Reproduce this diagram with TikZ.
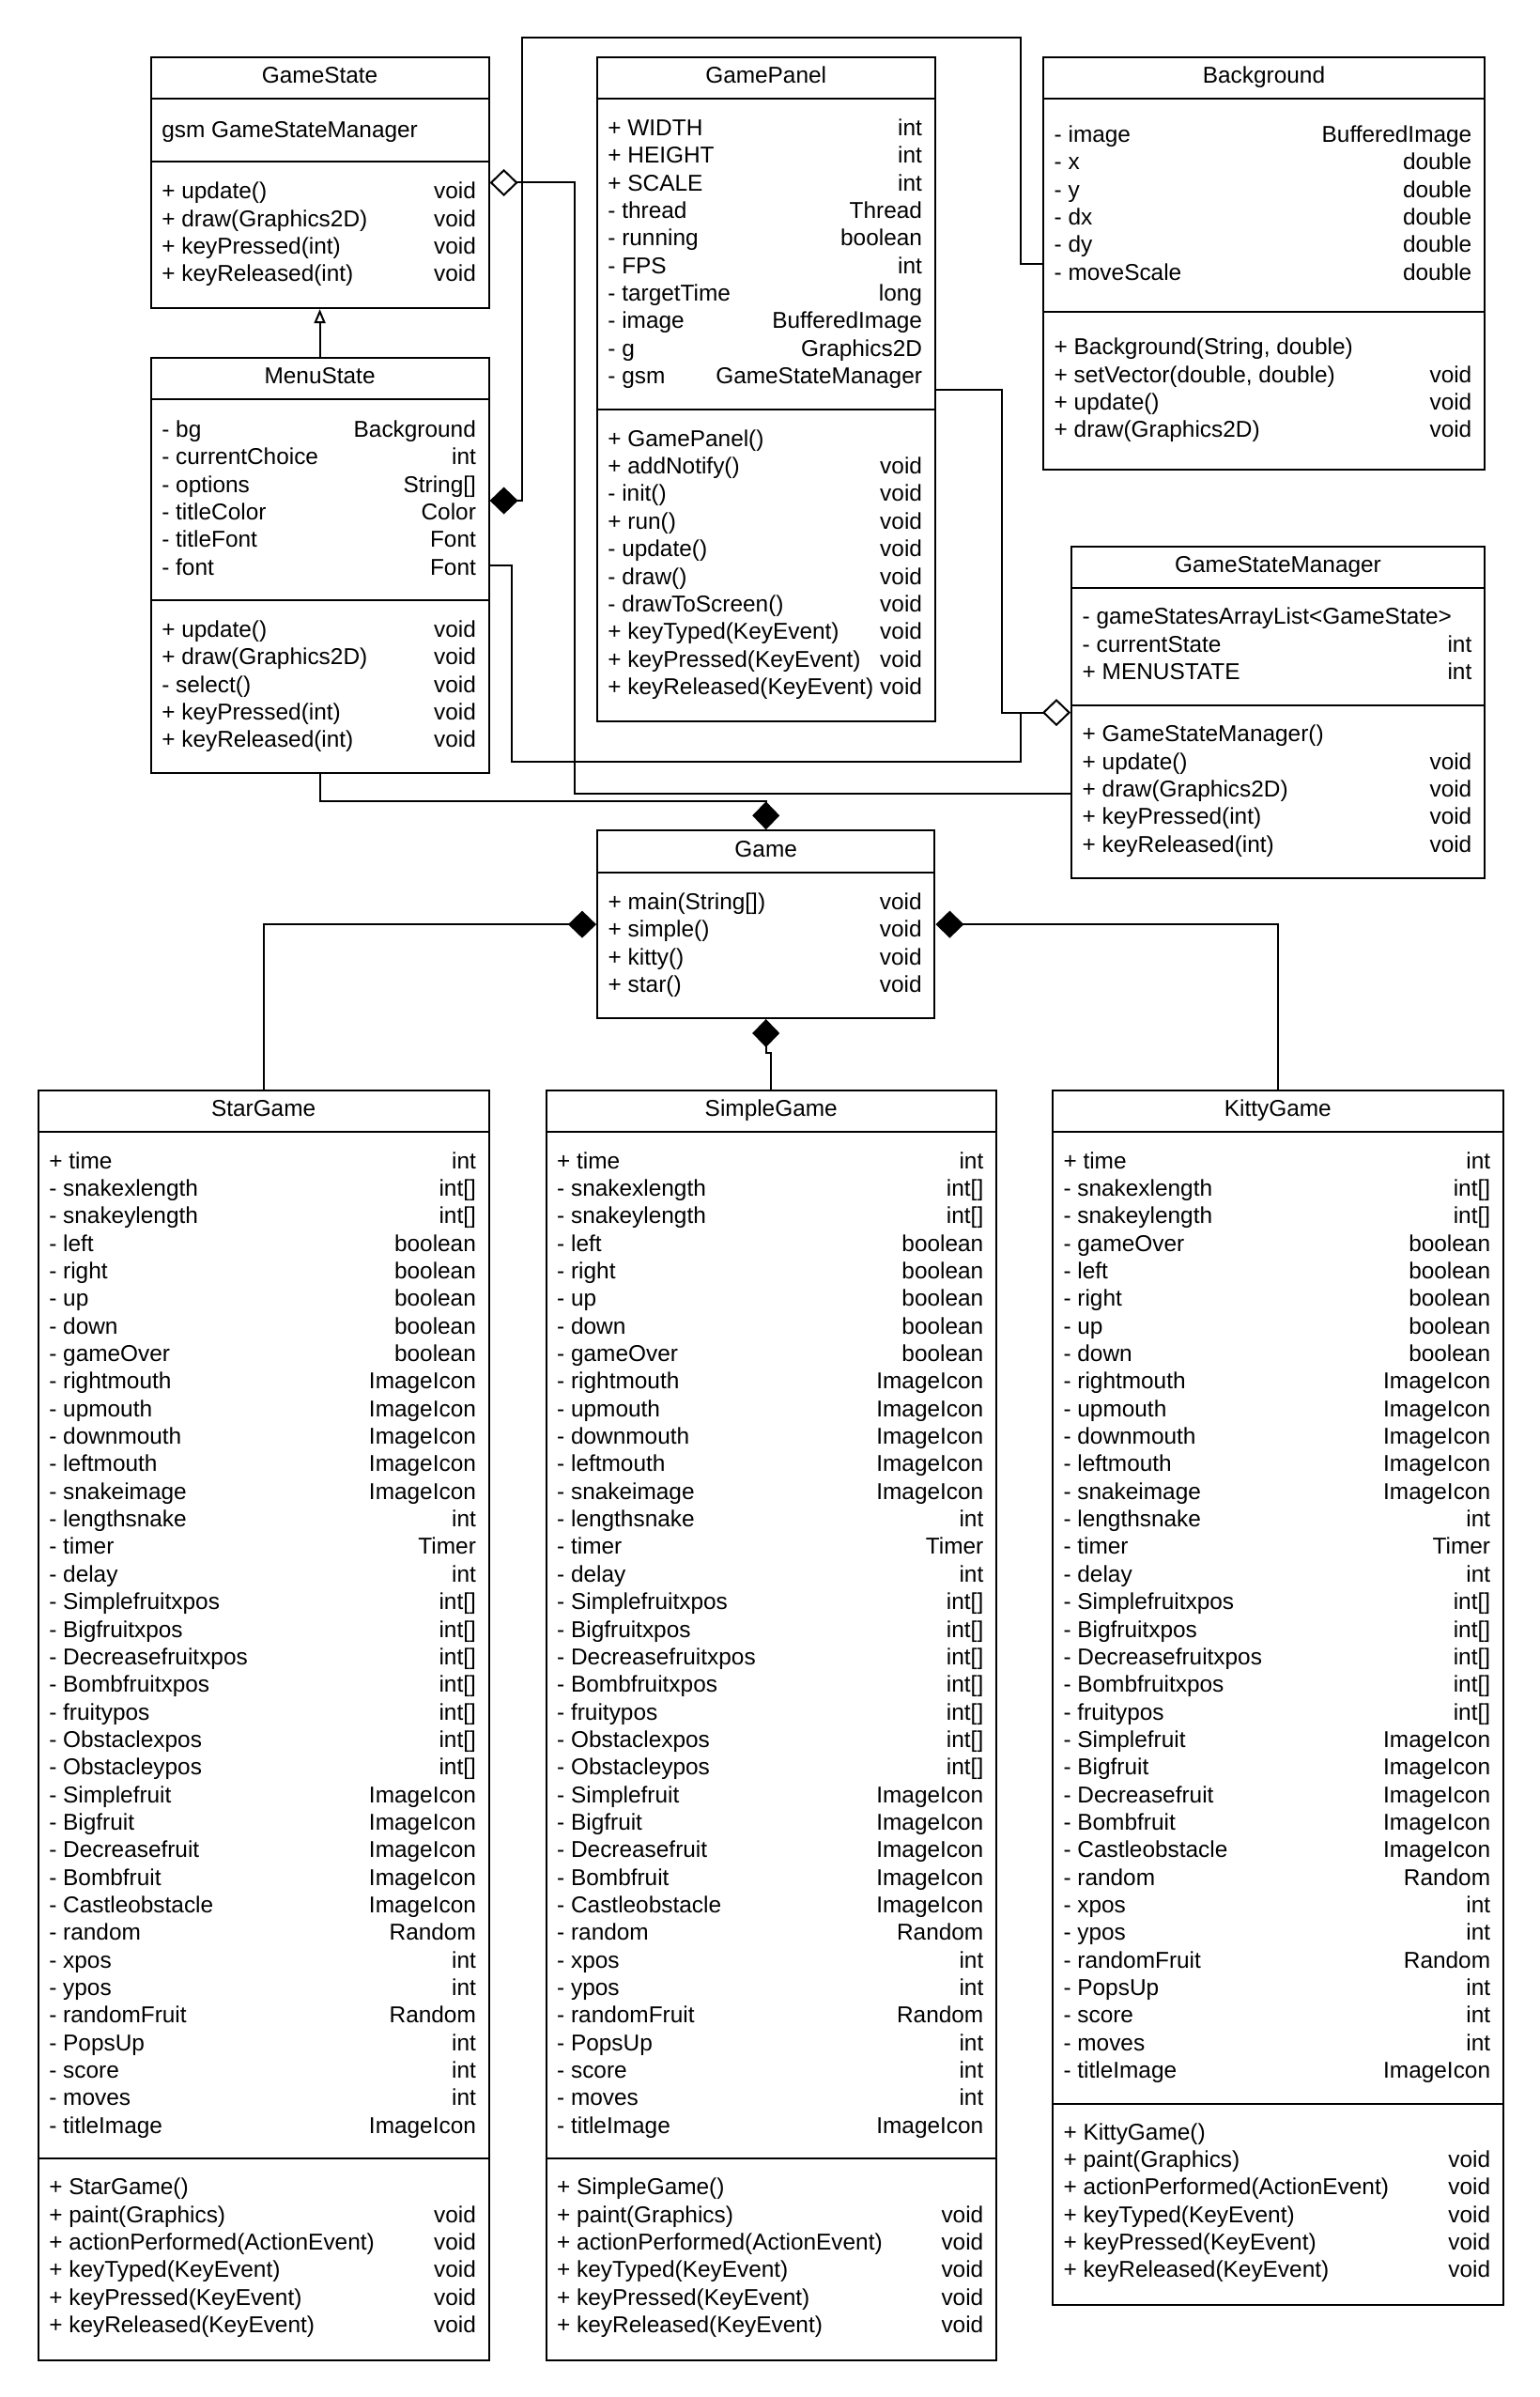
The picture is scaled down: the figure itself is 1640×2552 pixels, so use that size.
\documentclass[tikz,border=0pt]{standalone}
\usepackage{fontspec}
\setmainfont{Liberation Sans}
\usepackage{tikz}
\usetikzlibrary{arrows.meta,positioning,calc}
\newcommand{\umlfont}{\fontsize{24.4pt}{29.35pt}\selectfont}
\tikzset{
  umlbox/.style={draw,line width=2pt,inner sep=0pt,anchor=north west},
  sepline/.style={line width=2pt},
  cname/.style={font=\umlfont,inner sep=0pt,text height=17.5pt,text depth=5pt},
  lcell/.style={cname,anchor=west},
  rcell/.style={cname,anchor=east},
  link/.style={line width=2pt},
  compo/.style={link,-{Diamond[length=30pt,width=29pt]}},
  aggr/.style={link,-{Diamond[open,length=30pt,width=29pt]}},
  inherit/.style={link,-{Triangle[open,length=15pt,width=12pt]}},
}
% compartment line: box, distance from the top
\newcommand{\compline}[2]{\draw[sepline] ([yshift=-#2pt]#1.north west) -- ([yshift=-#2pt]#1.north east);}
% rows of a compartment: box, prefix, offset of first row, name/type list
\newcommand{\members}[4]{%
  \foreach \lhs/\rhs [count=\k from 0] in {#4}{%
    \node[lcell] (#2l\k) at ([xshift=12.5pt,yshift={-(#3+3+\k*29.35)*1pt}]#1.north west) {\lhs};
    \node[rcell] (#2r\k) at ([xshift=-14.5pt,yshift={-(#3+3+\k*29.35)*1pt}]#1.north east) {\rhs};
  }%
}

\begin{document}
\begin{tikzpicture}[x=1pt,y=-1pt]
  \fill[white] (0,0) rectangle (1640,2552);

  % GameState
  \node[umlbox,minimum width=360pt,minimum height=267.3pt] (gs) at (159.6,59.8) {};
  \node[cname] (gs-t) at ([yshift=-22.5pt]gs.north) {GameState};
  \compline{gs}{45}
  \compline{gs}{111.9}
  \members{gs}{gs-a}{77.2}{gsm GameStateManager/{}}
  \members{gs}{gs-m}{142.8}{+ update()/void, + draw(Graphics2D)/void, + keyPressed(int)/void, + keyReleased(int)/void}

  % MenuState
  \node[umlbox,minimum width=360pt,minimum height=442pt] (ms) at (159.6,380.4) {};
  \node[cname] (ms-t) at ([yshift=-22.2pt]ms.north) {MenuState};
  \compline{ms}{44.5}
  \compline{ms}{258.9}
  \members{ms}{ms-a}{75.9}{- bg/Background, - currentChoice/int, - options/String[], - titleColor/Color, - titleFont/Font, - font/Font}
  \members{ms}{ms-m}{288.7}{+ update()/void, + draw(Graphics2D)/void, - select()/void, + keyPressed(int)/void, + keyReleased(int)/void}

  % GamePanel
  \node[umlbox,minimum width=360pt,minimum height=707pt] (gp) at (634.7,60) {};
  \node[cname] (gp-t) at ([yshift=-22.5pt]gp.north) {GamePanel};
  \compline{gp}{45}
  \compline{gp}{375.8}
  \members{gp}{gp-a}{75.2}{+ WIDTH/int, + HEIGHT/int, + SCALE/int, - thread/Thread, - running/boolean, - FPS/int, - targetTime/long, - image/BufferedImage, - g/Graphics2D, - gsm/GameStateManager}
  \members{gp}{gp-m}{406}{+ GamePanel()/{}, + addNotify()/void, - init()/void, + run()/void, - update()/void, - draw()/void, - drawToScreen()/void, + keyTyped(KeyEvent)/void, + keyPressed(KeyEvent)/void, + keyReleased(KeyEvent)/void}

  % Background
  \node[umlbox,minimum width=470pt,minimum height=439.1pt] (bg) at (1110,60.1) {};
  \node[cname] (bg-t) at ([yshift=-22.4pt]bg.north) {Background};
  \compline{bg}{44.8}
  \compline{bg}{271.5}
  \members{bg}{bg-a}{82.1}{- image/BufferedImage, - x/double, - y/double, - dx/double, - dy/double, - moveScale/double}
  \members{bg}{bg-m}{308.3}{{+ Background(String, double)}/{}, {+ setVector(double, double)}/void, + update()/void, + draw(Graphics2D)/void}

  % GameStateManager
  \node[umlbox,minimum width=440pt,minimum height=353.6pt] (gsm) at (1140,580.8) {};
  \node[cname] (gsm-t) at ([yshift=-22.3pt]gsm.north) {GameStateManager};
  \compline{gsm}{44.7}
  \compline{gsm}{169.9}
  \members{gsm}{gsm-a}{74.6}{- gameStatesArrayList<GameState>/{}, - currentState/int, + MENUSTATE/int}
  \members{gsm}{gsm-m}{199.7}{+ GameStateManager()/{}, + update()/void, + draw(Graphics2D)/void, + keyPressed(int)/void, + keyReleased(int)/void}

  % Game
  \node[umlbox,minimum width=359.4pt,minimum height=199.7pt] (game) at (635,883.3) {};
  \node[cname] (game-t) at ([yshift=-22.8pt]game.north) {Game};
  \compline{game}{45.7}
  \members{game}{game-m}{76}{+ main(String[])/void, + simple()/void, + kitty()/void, + star()/void}

  % StarGame
  \node[umlbox,minimum width=480pt,minimum height=1352.1pt] (star) at (39.6,1159.8) {};
  \node[cname] (star-t) at ([yshift=-22.5pt]star.north) {StarGame};
  \compline{star}{45.1}
  \compline{star}{1137.8}
  \members{star}{star-a}{75}{+ time/int, - snakexlength/int[], - snakeylength/int[], - left/boolean, - right/boolean, - up/boolean, - down/boolean, - gameOver/boolean, - rightmouth/ImageIcon, - upmouth/ImageIcon, - downmouth/ImageIcon, - leftmouth/ImageIcon, - snakeimage/ImageIcon, - lengthsnake/int, - timer/Timer, - delay/int, - Simplefruitxpos/int[], - Bigfruitxpos/int[], - Decreasefruitxpos/int[], - Bombfruitxpos/int[], - fruitypos/int[], - Obstaclexpos/int[], - Obstacleypos/int[], - Simplefruit/ImageIcon, - Bigfruit/ImageIcon, - Decreasefruit/ImageIcon, - Bombfruit/ImageIcon, - Castleobstacle/ImageIcon, - random/Random, - xpos/int, - ypos/int, - randomFruit/Random, - PopsUp/int, - score/int, - moves/int, - titleImage/ImageIcon}
  \members{star}{star-m}{1167.7}{+ StarGame()/{}, + paint(Graphics)/void, + actionPerformed(ActionEvent)/void, + keyTyped(KeyEvent)/void, + keyPressed(KeyEvent)/void, + keyReleased(KeyEvent)/void}

  % SimpleGame
  \node[umlbox,minimum width=479.5pt,minimum height=1352.1pt] (simple) at (580.5,1159.8) {};
  \node[cname] (simple-t) at ([yshift=-22.5pt]simple.north) {SimpleGame};
  \compline{simple}{45.1}
  \compline{simple}{1137.8}
  \members{simple}{simple-a}{75}{+ time/int, - snakexlength/int[], - snakeylength/int[], - left/boolean, - right/boolean, - up/boolean, - down/boolean, - gameOver/boolean, - rightmouth/ImageIcon, - upmouth/ImageIcon, - downmouth/ImageIcon, - leftmouth/ImageIcon, - snakeimage/ImageIcon, - lengthsnake/int, - timer/Timer, - delay/int, - Simplefruitxpos/int[], - Bigfruitxpos/int[], - Decreasefruitxpos/int[], - Bombfruitxpos/int[], - fruitypos/int[], - Obstaclexpos/int[], - Obstacleypos/int[], - Simplefruit/ImageIcon, - Bigfruit/ImageIcon, - Decreasefruit/ImageIcon, - Bombfruit/ImageIcon, - Castleobstacle/ImageIcon, - random/Random, - xpos/int, - ypos/int, - randomFruit/Random, - PopsUp/int, - score/int, - moves/int, - titleImage/ImageIcon}
  \members{simple}{simple-m}{1167.7}{+ SimpleGame()/{}, + paint(Graphics)/void, + actionPerformed(ActionEvent)/void, + keyTyped(KeyEvent)/void, + keyPressed(KeyEvent)/void, + keyReleased(KeyEvent)/void}

  % KittyGame
  \node[umlbox,minimum width=480pt,minimum height=1293.5pt] (kitty) at (1119.8,1159.8) {};
  \node[cname] (kitty-t) at ([yshift=-22.5pt]kitty.north) {KittyGame};
  \compline{kitty}{45.1}
  \compline{kitty}{1079.8}
  \members{kitty}{kitty-a}{75}{+ time/int, - snakexlength/int[], - snakeylength/int[], - gameOver/boolean, - left/boolean, - right/boolean, - up/boolean, - down/boolean, - rightmouth/ImageIcon, - upmouth/ImageIcon, - downmouth/ImageIcon, - leftmouth/ImageIcon, - snakeimage/ImageIcon, - lengthsnake/int, - timer/Timer, - delay/int, - Simplefruitxpos/int[], - Bigfruitxpos/int[], - Decreasefruitxpos/int[], - Bombfruitxpos/int[], - fruitypos/int[], - Simplefruit/ImageIcon, - Bigfruit/ImageIcon, - Decreasefruit/ImageIcon, - Bombfruit/ImageIcon, - Castleobstacle/ImageIcon, - random/Random, - xpos/int, - ypos/int, - randomFruit/Random, - PopsUp/int, - score/int, - moves/int, - titleImage/ImageIcon}
  \members{kitty}{kitty-m}{1109.1}{+ KittyGame()/{}, + paint(Graphics)/void, + actionPerformed(ActionEvent)/void, + keyTyped(KeyEvent)/void, + keyPressed(KeyEvent)/void, + keyReleased(KeyEvent)/void}

  % connectors
  \draw[inherit] (ms.north) -- (gs.south);
  \draw[compo] (bg.west) -| (1087,40) -| ([xshift=34pt,yshift=69.4pt]ms.east) -- ([yshift=69.4pt]ms.east);
  \draw[aggr] ([yshift=-86pt]gsm.west) -| ([xshift=90.6pt]gs.east) -- (gs.east);
  \draw[aggr] (gp.east) -| ([xshift=-72.7pt]gsm.west) -- (gsm.west);
  \draw[link] (ms.east) -- ++(23.3,0) |- ([xshift=-53pt,yshift=-52.3pt]gsm.west) -- ([xshift=-53pt]gsm.west);
  \draw[compo] (ms.south) |- ([yshift=30.5pt]game.north) -- (game.north);
  \draw[compo] (star.north) |- (game.west);
  \draw[compo] (kitty.north) |- (game.east);
  \draw[compo] (simple.north) -- ++(0,-39) -| (game.south);
\end{tikzpicture}
\end{document}
